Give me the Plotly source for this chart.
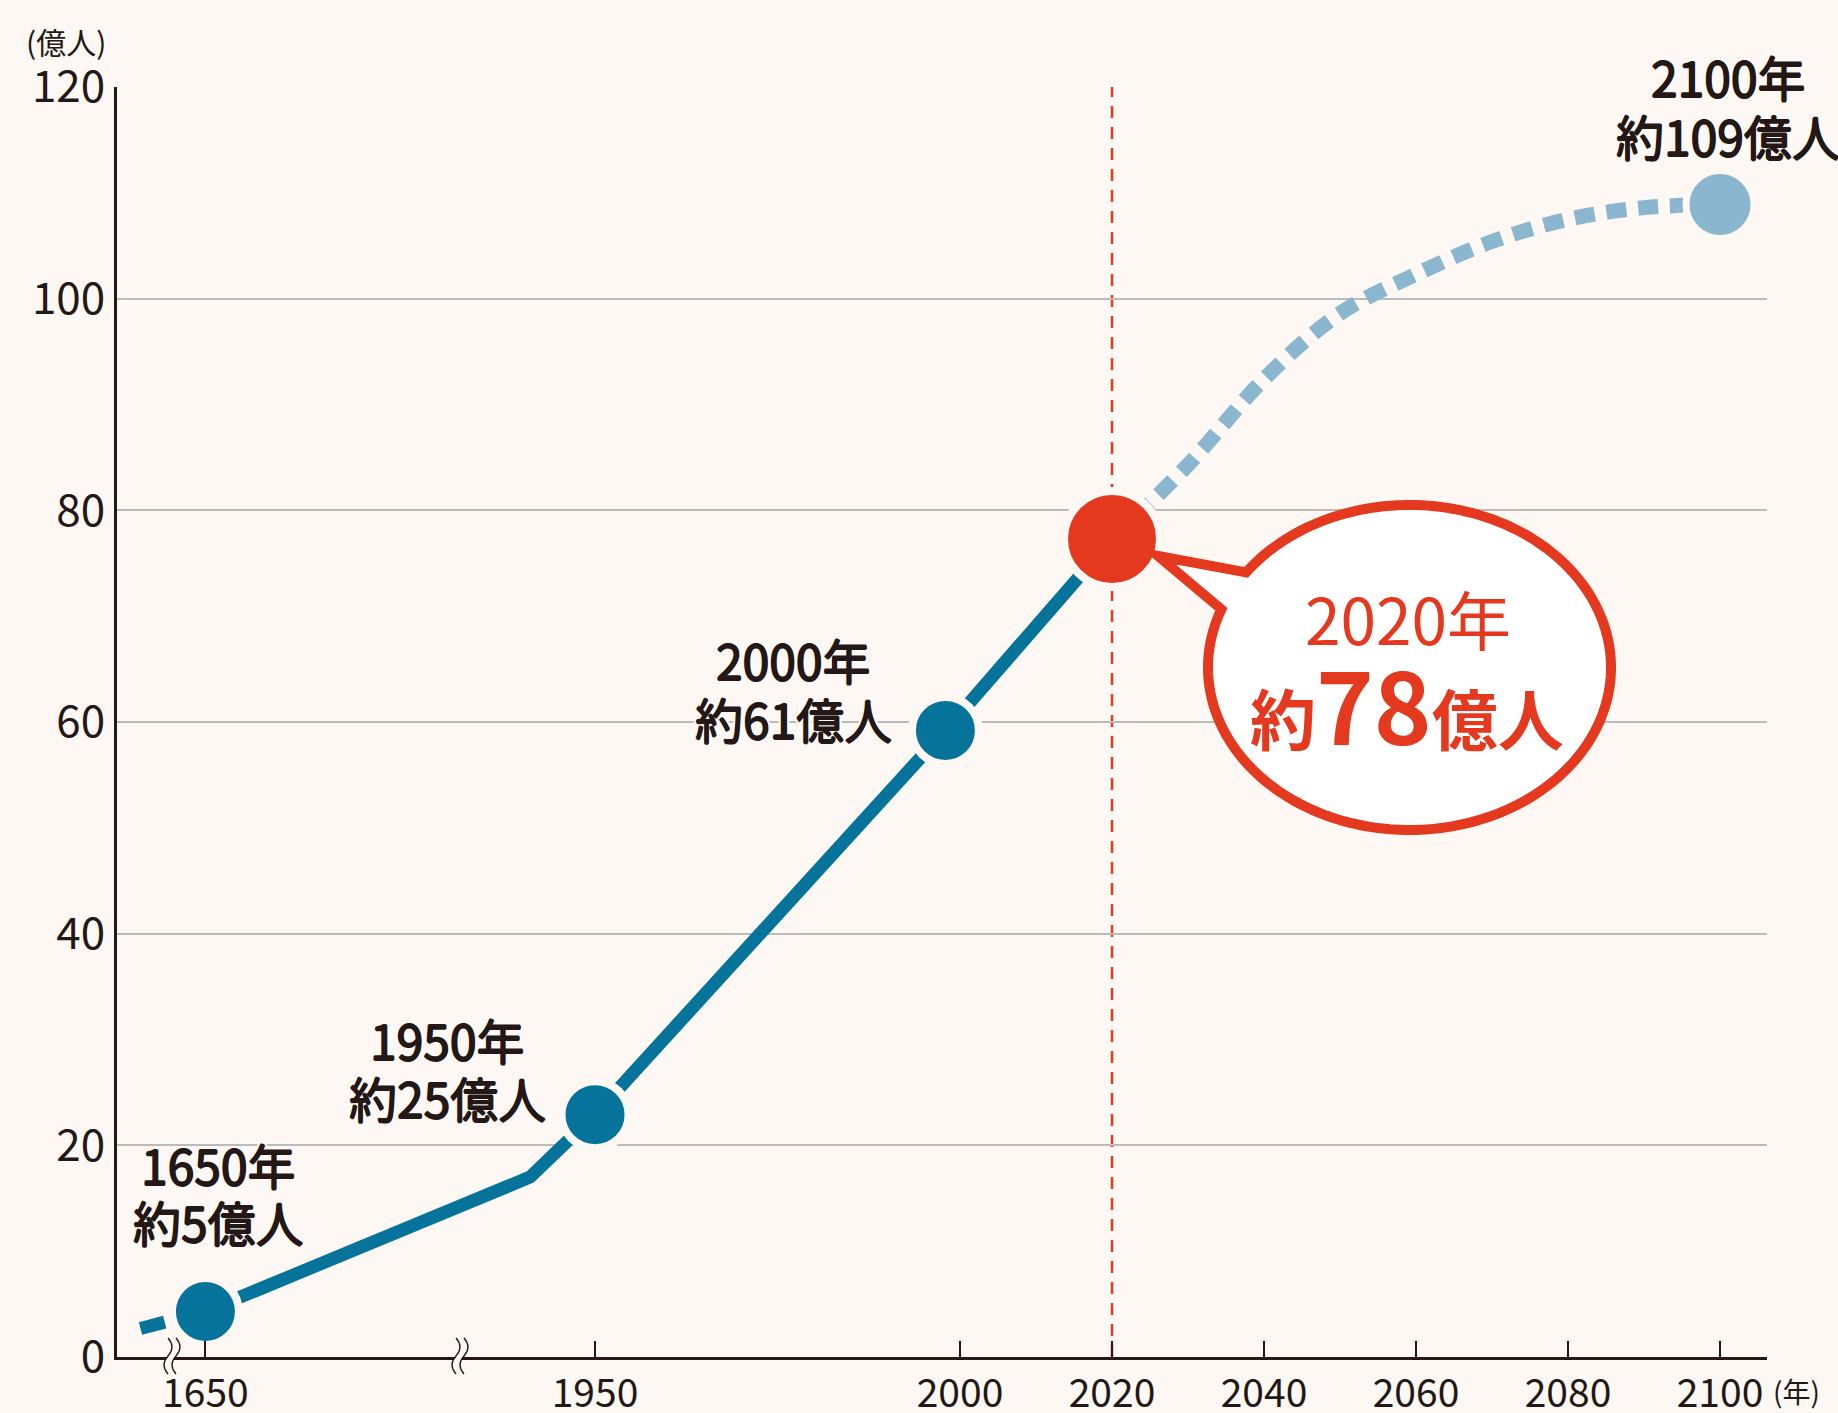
import numpy as np
import plotly.graph_objects as go

# ---------------- data ----------------
pre_years = [1600, 1650]
pre_values = [2.7, 4.3]
hist_years = [1650, 1900, 1950, 1998, 2020]
hist_values = [4.3, 17.0, 22.9, 59.2, 77.3]
proj_years = [2020, 2030, 2040, 2050, 2060, 2070, 2080, 2090, 2100]
proj_values = [77.3, 84.3, 92.4, 98.6, 102.3, 105.4, 107.5, 108.6, 108.9]
dot_years = [1650, 1950, 1998]
dot_values = [4.3, 22.9, 59.2]
now_year = 2020
now_value = 77.3
end_year = 2100
end_value = 108.9
x_tick_years = [1650, 1950, 2000, 2020, 2040, 2060, 2080, 2100]
x_tick_text = ["1650", "1950", "2000", "2020", "2040", "2060", "2080", "2100"]
y_tick_vals = [0, 20, 40, 60, 80, 100, 120]
y_tick_text = ["0", "20", "40", "60", "80", "100", "120"]
label_years = [1650, 1950, 1998, 2100]
label_values = [4.3, 22.9, 59.2, 108.9]
label_line1 = ["1650年", "1950年", "2000年", "2100年"]
label_line2 = ["約5億人", "約25億人", "約61億人", "約109億人"]
bubble_line1 = "2020年"
bubble_num = "78"

# ---------------- broken (piecewise) year scale ----------------
SCALE_YEARS = [1600, 1650, 1950, 2000, 2100]
SCALE_POS = [140.5, 205.4, 595.0, 960.0, 1720.0]


def pos(years):
    return np.interp(np.asarray(years, dtype=float), SCALE_YEARS, SCALE_POS)


# ---------------- styling ----------------
BG = "#FDF8F4"
TEAL = "#05739A"
LIGHT = "#8AB6CF"
RED = "#E5391F"
INK = "#231815"
GRID = "#BBBBBB"
FONT = "Noto Sans CJK JP, Noto Sans, sans-serif"

L, R, T, B = 117, 1767, 87, 1357  # plot area in pixels
W, H = 1838, 1413


def P(px, py):
    return (px - L) / (R - L), (B - py) / (B - T)


ink_offs = [(0.8, 0), (-0.8, 0), (0, 0.6), (0, -0.6)]
halo_offs = [(3, 0), (-3, 0), (0, 3), (0, -3), (2, 2), (-2, 2), (2, -2), (-2, -2)]
HALO = ", ".join([f"{dx}px {dy}px 0 {INK}" for dx, dy in ink_offs] +
                 [f"{dx}px {dy}px 0 {BG}" for dx, dy in halo_offs])

fig = go.Figure()

# dashed lead-in before 1650
fig.add_trace(go.Scatter(x=pos(pre_years), y=pre_values, mode="lines",
                         line=dict(color=TEAL, width=13, dash="25px,100px"),
                         hoverinfo="skip"))
# historical solid line
fig.add_trace(go.Scatter(x=pos(hist_years), y=hist_values, mode="lines",
                         line=dict(color=TEAL, width=13), hoverinfo="skip"))
# projection dashed line
fig.add_trace(go.Scatter(x=pos(proj_years), y=proj_values, mode="lines",
                         line=dict(color=LIGHT, width=15, dash="20px,12px",
                                   shape="spline", smoothing=1.0),
                         hoverinfo="skip"))
# markers
fig.add_trace(go.Scatter(x=pos(dot_years), y=dot_values, mode="markers",
                         marker=dict(color=TEAL, size=67, line=dict(color=BG, width=8)),
                         hoverinfo="skip"))
fig.add_trace(go.Scatter(x=pos([end_year]), y=[end_value], mode="markers",
                         marker=dict(color=LIGHT, size=68, line=dict(color=BG, width=7)),
                         hoverinfo="skip"))
fig.add_trace(go.Scatter(x=pos([now_year]), y=[now_value], mode="markers",
                         marker=dict(color=RED, size=96, line=dict(color=BG, width=8)),
                         hoverinfo="skip"))

shapes = []
# red dashed vertical line at 2020
x2020 = float(pos([now_year])[0])
shapes.append(dict(type="line", xref="x", yref="paper", x0=x2020, x1=x2020, y0=0, y1=1,
                   line=dict(color=RED, width=2.5, dash="12px,9px"), layer="between"))

# speech bubble (ellipse + tail), in pixel space -> paper
cx, cy, rx, ry = 1409.5, 667.5, 201.5, 162.5
t1, t2 = np.deg2rad(-144.2), np.deg2rad(201.0)
ts = np.linspace(t1, t2, 240)
pts = [(1158, 556)] + [(cx + rx * np.cos(t), cy + ry * np.sin(t)) for t in ts]
path = "M " + " L ".join("{:.5f},{:.5f}".format(*P(px, py)) for px, py in pts) + " Z"
shapes.append(dict(type="path", xref="paper", yref="paper", path=path,
                   fillcolor="white", line=dict(color=RED, width=10), layer="above"))

# axis break marks
for bx in [172, 460]:
    def seg(dx):
        x0 = bx + dx
        return [(x0, 1338), (x0 + 8, 1347), (x0, 1356), (x0 - 8, 1365), (x0, 1374)]
    a = seg(-4)
    b = seg(4)
    fill = ("M {} Q {} {} Q {} {} L {} Q {} {} Q {} {} Z".format(
        *["{:.5f},{:.5f}".format(*P(*p)) for p in
          [a[0], a[1], a[2], a[3], a[4], b[4], b[3], b[2], b[1], b[0]]]))
    shapes.append(dict(type="path", xref="paper", yref="paper", path=fill,
                       fillcolor=BG, line=dict(width=0), layer="above"))
    for s in (a, b):
        p = "M {} Q {} {} Q {} {}".format(*["{:.5f},{:.5f}".format(*P(*q)) for q in s])
        shapes.append(dict(type="path", xref="paper", yref="paper", path=p,
                           line=dict(color=INK, width=1.3), layer="above"))

annotations = []
# data labels: offsets (pixels) from their points
shifts = [(13, 147, 90), (-148, 76, 18), (-152, 71, 12), (8, 128, 69)]
for yr, v, l1, l2, (xs, y1s, y2s) in zip(label_years, label_values, label_line1, label_line2, shifts):
    xp = float(pos([yr])[0])
    for txt, ys in ((l1, y1s), (l2, y2s)):
        annotations.append(dict(x=xp, y=v, xref="x", yref="y", text=txt, showarrow=False,
                                xshift=xs, yshift=ys, xanchor="center", yanchor="middle",
                                font=dict(family=FONT, size=48, color=INK, weight="normal",
                                          shadow=HALO)))

bx1, by1 = P(1408, 617)
annotations.append(dict(x=bx1, y=by1, xref="paper", yref="paper", text=bubble_line1,
                        showarrow=False, xanchor="center", yanchor="middle",
                        font=dict(family=FONT, size=64, color=RED)))
bx2, by2 = P(1407, 702)
annotations.append(dict(x=bx2, y=by2, xref="paper", yref="paper",
                        text=f"<b>約</b><b><span style='font-size:98px'>{bubble_num}</span></b><b>億人</b>",
                        showarrow=False, xanchor="center", yanchor="middle",
                        font=dict(family=FONT, size=66, color=RED)))

# unit labels
ux, uy = P(66, 41)
annotations.append(dict(x=ux, y=uy, xref="paper", yref="paper", text="(億人)", showarrow=False,
                        xanchor="center", yanchor="middle",
                        font=dict(family=FONT, size=30, color=INK)))
nx, ny = P(1796, 1391)
annotations.append(dict(x=nx, y=ny, xref="paper", yref="paper", text="(年)", showarrow=False,
                        xanchor="center", yanchor="middle",
                        font=dict(family=FONT, size=28, color=INK)))

fig.update_layout(
    width=W, height=H,
    margin=dict(l=L, r=W - R, t=T, b=H - B, pad=0),
    paper_bgcolor=BG, plot_bgcolor=BG,
    showlegend=False,
    shapes=shapes, annotations=annotations,
    xaxis=dict(range=[L, R], tickvals=list(pos(x_tick_years)), ticktext=x_tick_text,
               showgrid=False, zeroline=False, showline=True, linecolor=INK, linewidth=3,
               ticks="inside", ticklen=16, tickwidth=1.5, tickcolor=INK,
               tickfont=dict(family=FONT, size=39, color=INK), automargin=False,
               fixedrange=True),
    yaxis=dict(range=[0, 120], tickvals=y_tick_vals, ticktext=y_tick_text,
               showgrid=True, gridcolor=GRID, gridwidth=1.5, zeroline=False,
               showline=True, linecolor=INK, linewidth=3, ticks="",
               tickfont=dict(family=FONT, size=44, color=INK), automargin=False,
               fixedrange=True),
)

fig.write_html("out.html", config={"displayModeBar": False},
               post_script="document.body.style.margin='0';document.body.style.overflow='hidden';")
